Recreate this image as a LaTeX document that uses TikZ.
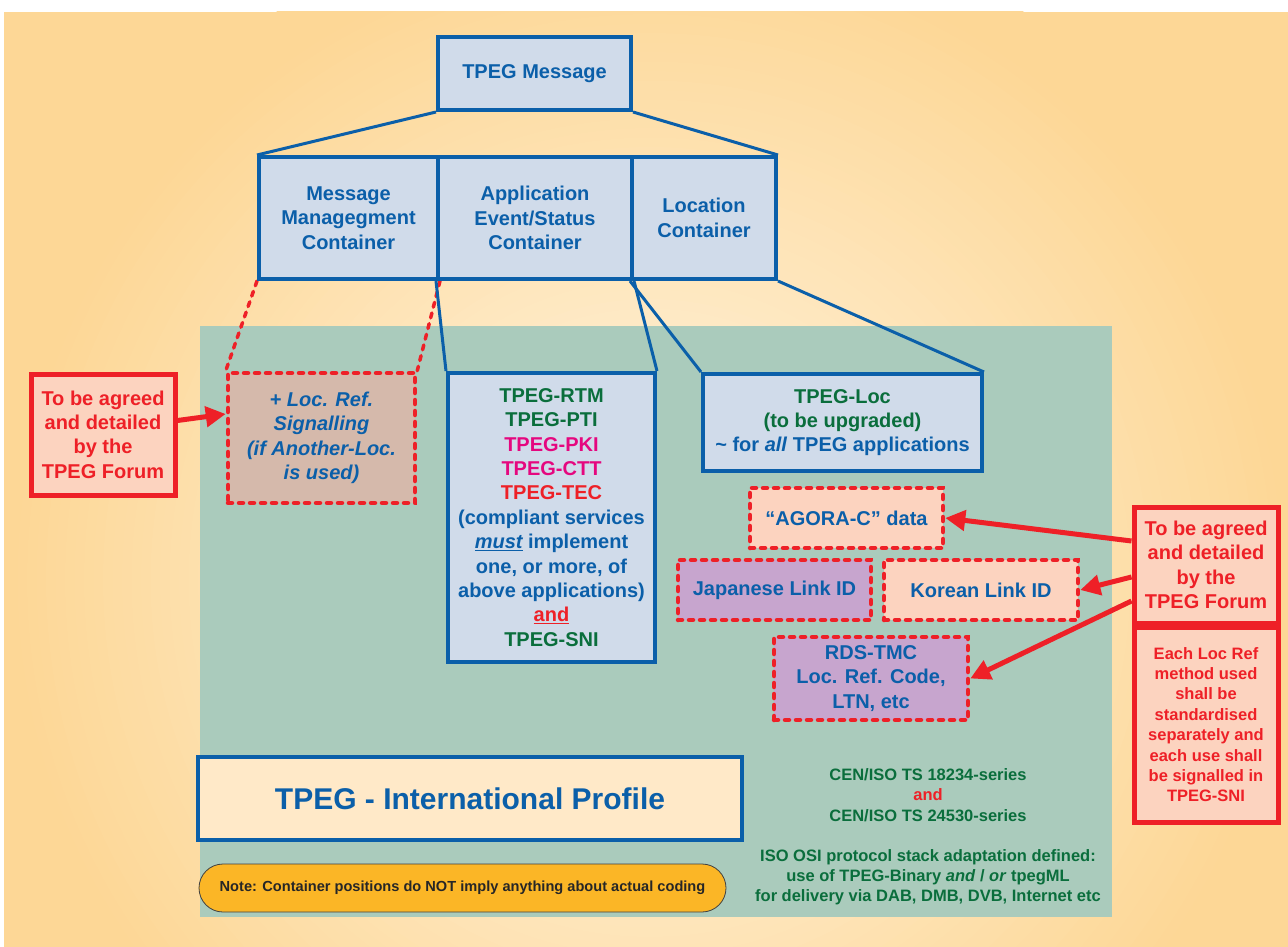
\documentclass[tikz,border=0pt]{standalone}
\usepackage{fontspec}
\setmainfont{Liberation Sans}
\usetikzlibrary{arrows.meta,calc}
\definecolor{bgcream}{HTML}{FFF5E3}
\definecolor{bgorange}{HTML}{FDD796}
\definecolor{panel}{HTML}{AACBBC}
\definecolor{tblue}{HTML}{0B5FA9}
\definecolor{bfill}{HTML}{D0DBEA}
\definecolor{tgreen}{HTML}{0A6E3C}
\definecolor{tpink}{HTML}{E5077F}
\definecolor{tred}{HTML}{EE2027}
\definecolor{peach}{HTML}{FCD3BF}
\definecolor{lilac}{HTML}{C7A5CE}
\definecolor{brownish}{HTML}{D5B9AB}
\definecolor{gold}{HTML}{FBB626}
\definecolor{intlfill}{HTML}{FFE9C8}
\pgfdeclarelayer{bg}
\pgfdeclarelayer{lines}
\pgfsetlayers{bg,lines,main}
\tikzset{
  fnt/.style={font=\fontsize{20}{24.4}\selectfont\bfseries},
  bluebox/.style={draw=tblue, line width=4pt, fill=bfill, inner sep=0pt, align=center, text=tblue, fnt},
  redbox/.style={draw=tred, line width=4.5pt, dash pattern=on 4pt off 7pt, line cap=round, inner sep=0pt, align=center, text=tblue, fnt},
  forumbox/.style={draw=tred, line width=5pt, fill=peach, inner sep=0pt, align=center, text=tred, fnt},
  conn/.style={draw=tblue, line width=3pt},
  redconn/.style={draw=tred, line width=3.5pt, dash pattern=on 5pt off 6pt, line cap=round},
  redarrow/.style={draw=tred, line width=5pt, -{Triangle[length=20pt,width=20pt]}},
}
\begin{document}
\begin{tikzpicture}[x=1pt,y=-1pt]
\useasboundingbox (0,0) rectangle (1288,947);
\begin{pgfonlayer}{bg}
\fill[white] (0,0) rectangle (1288,947);
\begin{scope}
\clip (4,12) rectangle (1288,947);
\fill[bgorange] (4,12) rectangle (1288,947);
\foreach \i in {0,...,70}{
  \pgfmathsetmacro\r{680-9.5*\i}
  \pgfmathsetmacro\p{max(0,min(100,(\r-20)/6.2))}
  \fill[bgorange!\p!bgcream] (650,580) circle (\r);
}
\end{scope}
\fill[panel] (200,326) rectangle (1112,917);
\end{pgfonlayer}

% top structure
\node[bluebox, minimum width=193pt, minimum height=73pt] (msg) at (534.5,73.5) {TPEG Message};
\node[bluebox, minimum width=179pt, minimum height=122pt] (mmc) at (348.5,218) {Message\\Managegment\\Container};
\node[bluebox, minimum width=194pt, minimum height=122pt] (aes) at (535,218) {Application\\Event/Status\\Container};
\node[bluebox, minimum width=144pt, minimum height=122pt] (locc) at (704,218) {Location\\Container};

% second level
\node[redbox, fill=brownish, minimum width=187pt, minimum height=130pt] (locref) at (321.5,438) {\itshape + Loc. Ref.\\\itshape Signalling\\\itshape (if Another-Loc.\\\itshape is used)};
\node[bluebox, minimum width=207pt, minimum height=289pt] (apps) at (551.5,517.5) {\color{tgreen}TPEG-RTM\\\color{tgreen}TPEG-PTI\\\color{tpink}TPEG-PKI\\\color{tpink}TPEG-CTT\\\color{tred}TPEG-TEC\\(compliant services\\\underline{\itshape must} implement\\one, or more, of\\above applications)\\\color{tred}\underline{and}\\\color{tgreen}TPEG-SNI};
\node[bluebox, minimum width=279pt, minimum height=97pt] (tloc) at (842.5,422.5) {\color{tgreen}TPEG-Loc\\\color{tgreen}(to be upgraded)\\\textasciitilde\ for \textit{all} TPEG applications};

\node[redbox, fill=peach, minimum width=193pt, minimum height=60pt] (agora) at (846.5,518) {``AGORA-C'' data};
\node[redbox, fill=lilac, minimum width=193pt, minimum height=60pt] (jap) at (774.5,590) {Japanese Link ID};
\node[redbox, fill=peach, minimum width=194pt, minimum height=60pt] (kor) at (981,590) {Korean Link ID};
\node[redbox, fill=lilac, minimum width=194pt, minimum height=83pt] (rds) at (871,678.5) {RDS-TMC\\Loc. Ref. Code,\\LTN, etc};

\node[forumbox, minimum width=144pt, minimum height=116pt] (forum2) at (1206,565) {To be agreed\\and detailed\\by the\\TPEG Forum};
\node[forumbox, minimum width=144pt, minimum height=195pt, font=\fontsize{16.5}{20.4}\selectfont\bfseries] (each) at (1206,724.5) {Each Loc Ref\\method used\\shall be\\standardised\\separately and\\each use shall\\be signalled in\\TPEG-SNI};
\node[forumbox, minimum width=144pt, minimum height=121pt] (forum1) at (103,434.5) {To be agreed\\and detailed\\by the\\TPEG Forum};

\node[draw=tblue, line width=4.5pt, fill=intlfill, minimum width=544pt, minimum height=83pt, text=tblue, font=\fontsize{30}{34}\selectfont\bfseries] (intl) at (470,798.5) {TPEG - International Profile};
\node[draw=black!75, line width=0.8pt, fill=gold, rounded corners=24pt, minimum width=527pt, minimum height=48pt, text=black!85, font=\fontsize{14.6}{17}\selectfont\bfseries] (note) at (462.5,888) {Note: Container positions do NOT imply anything about actual coding};

\node[align=center, text=tgreen, font=\fontsize{16.5}{20.3}\selectfont\bfseries] (cen) at (928,795) {CEN/ISO TS 18234-series\\\color{tred}and\\CEN/ISO TS 24530-series};
\node[align=center, text=tgreen, font=\fontsize{16.5}{19.8}\selectfont\bfseries] (iso) at (928,877) {ISO OSI protocol stack adaptation defined:\\use of TPEG-Binary \textit{and} / \textit{or} tpegML\\for delivery via DAB, DMB, DVB, Internet etc};

% connectors
\begin{pgfonlayer}{lines}
\draw[conn] (msg.south west) -- (mmc.north west);
\draw[conn] (msg.south east) -- (locc.north east);
\draw[redconn] (mmc.south west) -- (locref.north west);
\draw[redconn] (mmc.south east) -- (locref.north east);
\draw[conn] (aes.south west) -- (apps.north west);
\draw[conn] (aes.south east) -- (apps.north east);
\draw[conn] (locc.south west) -- (tloc.north west);
\draw[conn] (locc.south east) -- (tloc.north east);
\end{pgfonlayer}

\draw[redarrow] ([yshift=14pt]forum1.east) -- ([yshift=24pt]locref.west);
\draw[redarrow] ([yshift=24pt]forum2.west) -- (agora.east);
\draw[redarrow] ([yshift=-12pt]forum2.west) -- (kor.east);
\draw[redarrow] ([yshift=-36pt]forum2.west) -- (rds.east);
\end{tikzpicture}
\end{document}
